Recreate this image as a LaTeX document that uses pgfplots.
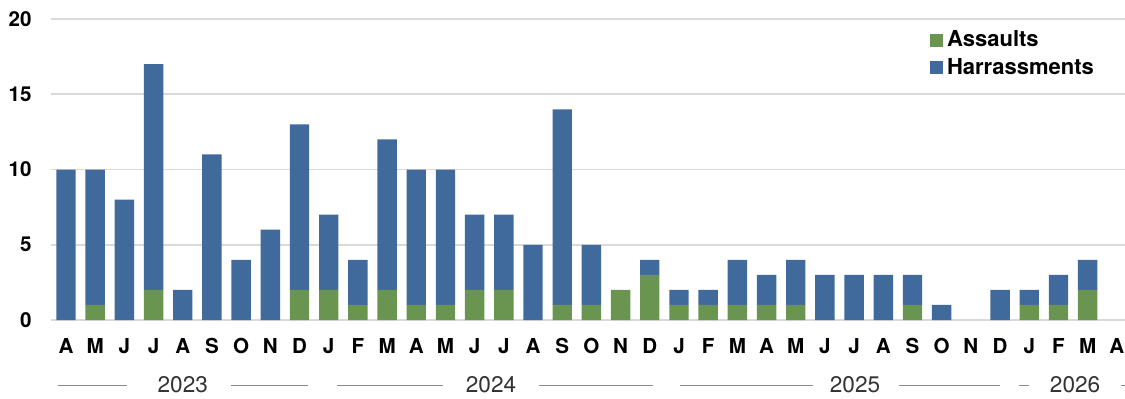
\documentclass[border=0pt]{standalone}
\usepackage{pgfplots}
\pgfplotsset{compat=1.18}
\usepackage{fontspec}
\setmainfont{TeX Gyre Heros}
\definecolor{cblue}{HTML}{416A9C}
\definecolor{cgreen}{HTML}{6A9550}
\definecolor{cgrid}{HTML}{DADADA}
\definecolor{cyear}{HTML}{333333}
\definecolor{cline}{HTML}{8A8A8A}
\tikzset{yl/.style={font=\fontsize{11.3}{13}\selectfont, text=cyear, anchor=base, inner sep=0pt}}
\begin{document}
\begin{tikzpicture}
\begin{axis}[
  scale only axis,
  width=536.8pt, height=150.5pt,
  at={(0,0)}, anchor=south west,
  ybar stacked, bar width=9.7pt,
  xmin=-0.5, xmax=36.28, ymin=0, ymax=20,
  xtick={0,...,36},
  xticklabels={A,M,J,J,A,S,O,N,D,J,F,M,A,M,J,J,A,S,O,N,D,J,F,M,A,M,J,J,A,S,O,N,D,J,F,M,A},
  ytick={0,5,10,15,20},
  ymajorgrids, major grid style={cgrid, line width=0.8pt},
  axis line style={draw=none},
  major tick length=0pt,
  /pgf/number format/assume math mode=true,
  xticklabel style={font=\fontsize{10.3}{12}\selectfont\bfseries, anchor=base, inner sep=0pt, yshift=-16.7pt},
  yticklabel style={font=\fontsize{10.3}{12}\selectfont\bfseries, anchor=east, inner sep=0pt, xshift=-9.7pt},
  clip=false,
  legend cell align=left,
  legend style={at={(0.818,0.975)}, anchor=north west, draw=none, fill=none,
    font=\fontsize{11}{13}\selectfont\bfseries, row sep=0.2pt, inner sep=0pt,
    /tikz/every even column/.append style={column sep=2pt}},
  legend image code/.code={\fill[#1] (0pt,-3.25pt) rectangle (6.5pt,3.25pt);},
]
\addplot[fill=cgreen, draw=none] coordinates {
(0,0) (1,1) (2,0) (3,2) (4,0) (5,0) (6,0) (7,0) (8,2)
(9,2) (10,1) (11,2) (12,1) (13,1) (14,2) (15,2) (16,0) (17,1) (18,1) (19,2) (20,3)
(21,1) (22,1) (23,1) (24,1) (25,1) (26,0) (27,0) (28,0) (29,1) (30,0) (31,0) (32,0)
(33,1) (34,1) (35,2)};
\addlegendentry{Assaults}
\addplot[fill=cblue, draw=none] coordinates {
(0,10) (1,9) (2,8) (3,15) (4,2) (5,11) (6,4) (7,6) (8,11)
(9,5) (10,3) (11,10) (12,9) (13,9) (14,5) (15,5) (16,5) (17,13) (18,4) (19,0) (20,1)
(21,1) (22,1) (23,3) (24,2) (25,3) (26,3) (27,3) (28,3) (29,2) (30,1) (31,0) (32,2)
(33,1) (34,2) (35,2)};
\addlegendentry{Harrassments}
\draw[cline, line width=0.5pt] (axis cs:-0.27,-4.32) -- (axis cs:2.1,-4.32);
\draw[cline, line width=0.5pt] (axis cs:5.65,-4.32) -- (axis cs:8.29,-4.32);
\node[yl] at (axis cs:4.0,-4.85) {2023};
\draw[cline, line width=0.5pt] (axis cs:9.28,-4.32) -- (axis cs:12.92,-4.32);
\draw[cline, line width=0.5pt] (axis cs:16.2,-4.32) -- (axis cs:20.1,-4.32);
\node[yl] at (axis cs:14.56,-4.85) {2024};
\draw[cline, line width=0.5pt] (axis cs:21.03,-4.32) -- (axis cs:25.6,-4.32);
\draw[cline, line width=0.5pt] (axis cs:28.54,-4.32) -- (axis cs:32.0,-4.32);
\node[yl] at (axis cs:27.03,-4.85) {2025};
\draw[cline, line width=0.5pt] (axis cs:32.65,-4.32) -- (axis cs:33.0,-4.32);
\draw[cline, line width=0.5pt] (axis cs:36.14,-4.32) -- (axis cs:36.28,-4.32);
\node[yl] at (axis cs:34.57,-4.85) {2026};
\end{axis}
\pgfresetboundingbox
\path[use as bounding box] (-25.7pt,-39pt) rectangle (536.8pt,160pt);
\end{tikzpicture}
\end{document}
